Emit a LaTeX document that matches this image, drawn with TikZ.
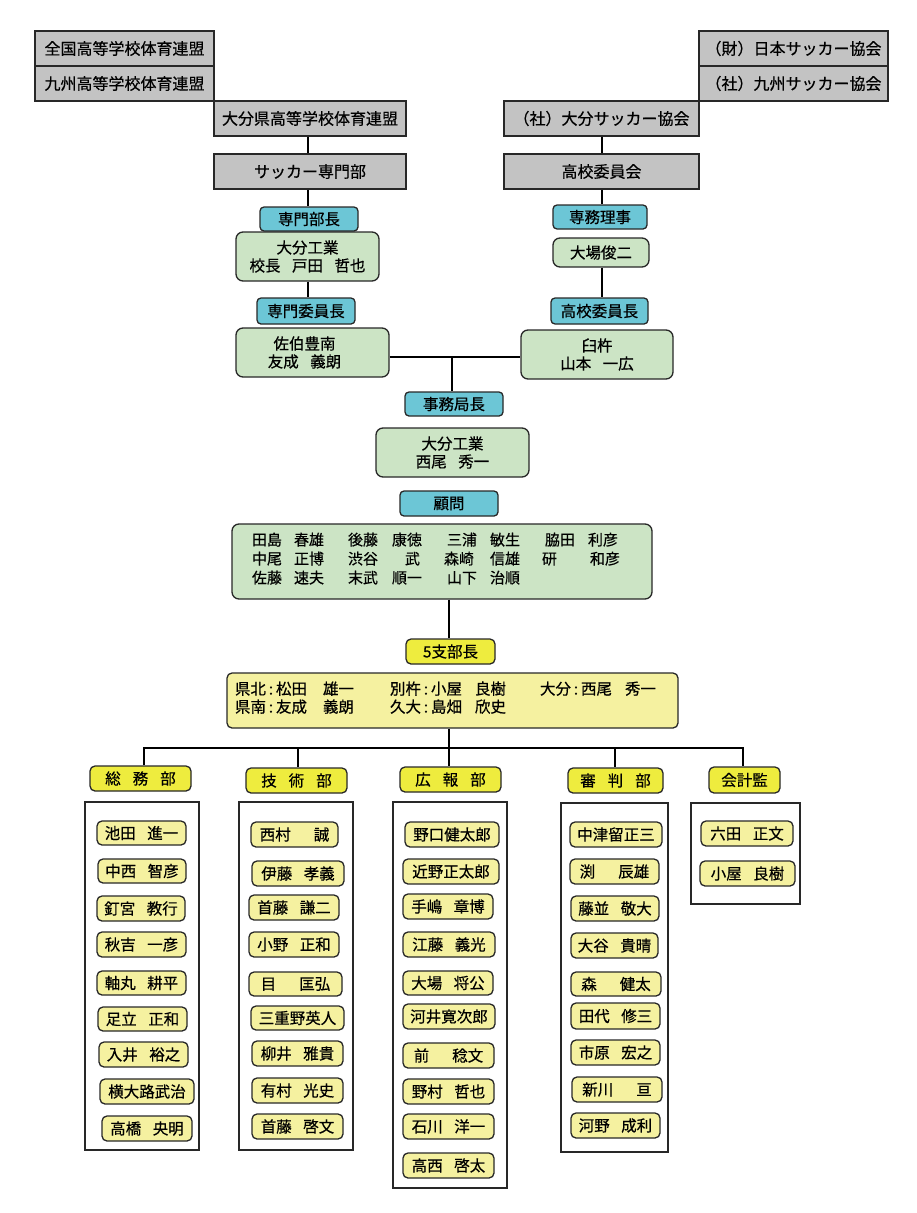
\documentclass[tikz,border=0pt]{standalone}
\usepackage{fontspec}
\setmainfont{Noto Sans CJK JP}[FakeBold=0.5]
\definecolor{grayc}{RGB}{195,195,195}
\definecolor{cyanc}{RGB}{108,198,214}
\definecolor{greenc}{RGB}{204,228,197}
\definecolor{yellowc}{RGB}{238,236,62}
\definecolor{paleyc}{RGB}{245,241,160}
\definecolor{edgec}{RGB}{40,40,40}
\newcommand\bx[7]{\node[#1,minimum width={(#4)-(#3)},minimum height={(#6)-(#5)}] (#2) at ({((#3)+(#4))/2},{((#5)+(#6))/2}) {#7};}
\newcommand\cl[2]{\makebox[#1pt][l]{#2}}
\newcommand\cc{\makebox[10pt]{:}}
\newcommand\sgap{\hspace{11.5pt}}
\newcommand\dgap{\hspace{23pt}}
\begin{document}
\begin{tikzpicture}[x=1pt,y=-1pt,
  base/.style={inner sep=0pt, font=\fontsize{15.5}{18}\selectfont, align=center, text=black},
  graybox/.style={base, draw=edgec, line width=1.6pt, fill=grayc, font=\fontsize{16}{18}\selectfont},
  labelbox/.style={base, draw=edgec, line width=1.3pt, fill=cyanc, rounded corners=4pt},
  greenbox/.style={base, draw=edgec, line width=1.3pt, fill=greenc, rounded corners=7pt},
  deptbox/.style={base, draw=edgec, line width=1.3pt, fill=yellowc, rounded corners=5pt},
  memberbox/.style={base, draw=edgec, line width=1.3pt, fill=paleyc, rounded corners=5pt},
  container/.style={draw=edgec, line width=1.2pt, fill=white, inner sep=0pt},
  conn/.style={line width=2pt, draw=black}]
\useasboundingbox (0,0) rectangle (917,1213);
\fill[white] (0,0) rectangle (917,1213);
% named coordinates for connector lines
\coordinate (lx) at (308,0);
\coordinate (rx) at (602,0);
\coordinate (mx) at (452,0);
\coordinate (bxx) at (449,0);
\coordinate (hy) at (0,357);
\coordinate (j1) at (144,748);
\coordinate (j2) at (298,748);
\coordinate (j3) at (449,748);
\coordinate (j4) at (615,748);
\coordinate (j5) at (743,748);
% gray boxes
\bx{graybox}{g1}{35}{214}{31}{66}{全国高等学校体育連盟}
\bx{graybox}{g2}{35}{214}{66}{101}{九州高等学校体育連盟}
\bx{graybox}{g3}{214}{406}{101}{136}{大分県高等学校体育連盟}
\bx{graybox}{g4}{214}{406}{154}{189}{サッカー専門部}
\bx{graybox}{r1}{699}{888}{31}{66}{（財）日本サッカー協会}
\bx{graybox}{r2}{699}{888}{66}{101}{（社）九州サッカー協会}
\bx{graybox}{r3}{504}{699}{101}{136}{（社）大分サッカー協会}
\bx{graybox}{r4}{504}{699}{154}{189}{高校委員会}
% left column
\bx{labelbox}{c1}{260}{358}{207}{231}{専門部長}
\bx{greenbox}{n1}{236}{379}{232}{281}{大分工業\\校長\sgap 戸田\sgap 哲也}
\bx{labelbox}{c2}{257}{355}{298}{324}{専門委員長}
\bx{greenbox}{n2}{236}{389}{328}{377}{\hspace*{-16pt}佐伯豊南\\\hspace*{-16pt}友成\sgap 義朗}
% right column
\bx{labelbox}{c3}{553}{647}{205}{229}{専務理事}
\bx{greenbox}{n3}{553}{649}{238}{267}{大場俊二}
\bx{labelbox}{c4}{551}{648}{298}{324}{高校委員長}
\bx{greenbox}{n4}{521}{673}{330}{379}{臼杵\\山本\sgap 一広}
% centre
\bx{labelbox}{c5}{405}{503}{392}{416}{事務局長}
\bx{greenbox}{n5}{376}{529}{428}{477}{大分工業\\西尾\sgap 秀一}
\bx{labelbox}{c6}{400}{498}{491}{516}{顧問}
\bx{greenbox, align=left, text width=380pt, inner xsep=20pt, font=\fontsize{15}{19}\selectfont}{n6}{232}{652}{524}{599}{%
\cl{42}{田島}\cl{54}{春雄}\cl{44}{後藤}\cl{55}{康徳}\cl{43}{三浦}\cl{55}{敏生}\cl{43}{脇田}利彦\\
\cl{42}{中尾}\cl{54}{正博}\cl{57}{渋谷}\cl{39}{武}\cl{46}{森崎}\cl{52}{信雄}\cl{48}{研}和彦\\
\cl{42}{佐藤}\cl{54}{速夫}\cl{44}{末武}\cl{55}{順一}\cl{43}{山下}治順\\[-12pt]\mbox{}}
\bx{deptbox}{y0}{406}{495}{639}{664}{5支部長}
\bx{memberbox, align=left, text width=435pt, inner xsep=8pt}{p0}{227}{678}{673}{728}{%
\cl{88}{県北\cc 松田}\cl{67}{雄一}\cl{85}{別杵\cc 小屋}\cl{65}{良樹}\cl{85}{大分\cc 西尾}秀一\\
\cl{88}{県南\cc 友成}\cl{67}{義朗}\cl{85}{久大\cc 島畑}欣史\\[-11pt]\mbox{}}
% departments
\bx{deptbox}{d1}{90}{191}{766}{791}{総\hspace{12pt}務\hspace{12pt}部}
\bx{deptbox}{d2}{246}{347}{768}{793}{技\hspace{12pt}術\hspace{12pt}部}
\bx{deptbox}{d3}{400}{501}{767}{792}{広\hspace{12pt}報\hspace{12pt}部}
\bx{deptbox}{d4}{568}{663}{768}{793}{審\hspace{12pt}判\hspace{12pt}部}
\bx{deptbox}{d5}{709}{780}{767}{793}{会計監}
% containers
\bx{container}{k1}{85}{199}{802}{1150}{}
\bx{container}{k2}{239}{353}{802}{1150}{}
\bx{container}{k3}{393}{507}{802}{1188}{}
\bx{container}{k4}{561}{668}{803}{1152}{}
\bx{container}{k5}{691}{800}{803}{904}{}
% 総務部 members
\bx{memberbox}{s1}{97}{186}{821}{845}{池田\sgap 進一}
\bx{memberbox}{s2}{98}{186}{859}{883}{中西\sgap 智彦}
\bx{memberbox}{s3}{97}{185}{896}{921}{釘宮\sgap 教行}
\bx{memberbox}{s4}{97}{186}{932}{957}{秋吉\sgap 一彦}
\bx{memberbox}{s5}{97}{186}{971}{995}{軸丸\sgap 耕平}
\bx{memberbox}{s6}{98}{187}{1007}{1031}{足立\sgap 正和}
\bx{memberbox}{s7}{99}{188}{1042}{1067}{入井\sgap 裕之}
\bx{memberbox}{s8}{100}{194}{1079}{1104}{横大路武治}
\bx{memberbox}{s9}{102}{192}{1116}{1141}{高橋\sgap 央明}
% 技術部 members
\bx{memberbox}{t1}{251}{338}{822}{847}{西村\dgap 誠}
\bx{memberbox}{t2}{252}{344}{861}{886}{伊藤\sgap 孝義}
\bx{memberbox}{t3}{249}{339}{895}{920}{首藤\sgap 謙二}
\bx{memberbox}{t4}{249}{339}{932}{957}{小野\sgap 正和}
\bx{memberbox}{t5}{249}{342}{972}{996}{目\dgap 匡弘}
\bx{memberbox}{t6}{251}{344}{1006}{1030}{三重野英人}
\bx{memberbox}{t7}{252}{343}{1041}{1066}{柳井\sgap 雅貴}
\bx{memberbox}{t8}{252}{343}{1078}{1103}{有村\sgap 光史}
\bx{memberbox}{t9}{252}{343}{1114}{1139}{首藤\sgap 啓文}
% 広報部 members
\bx{memberbox}{h1}{405}{499}{822}{847}{野口健太郎}
\bx{memberbox}{h2}{403}{499}{859}{884}{近野正太郎}
\bx{memberbox}{h3}{403}{493}{894}{919}{手嶋\sgap 章博}
\bx{memberbox}{h4}{403}{495}{932}{957}{江藤\sgap 義光}
\bx{memberbox}{h5}{403}{493}{971}{995}{大場\sgap 将公}
\bx{memberbox}{h6}{403}{495}{1004}{1029}{河井寛次郎}
\bx{memberbox}{h7}{403}{494}{1043}{1068}{前\dgap 稔文}
\bx{memberbox}{h8}{403}{494}{1079}{1104}{野村\sgap 哲也}
\bx{memberbox}{h9}{403}{494}{1114}{1139}{石川\sgap 洋一}
\bx{memberbox}{h10}{403}{494}{1153}{1178}{高西\sgap 啓太}
% 審判部 members
\bx{memberbox}{m1}{570}{662}{822}{847}{中津留正三}
\bx{memberbox}{m2}{570}{659}{859}{884}{渕\dgap 辰雄}
\bx{memberbox}{m3}{571}{659}{896}{921}{藤並\sgap 敬大}
\bx{memberbox}{m4}{571}{658}{933}{958}{大谷\sgap 貴晴}
\bx{memberbox}{m5}{571}{661}{972}{996}{森\dgap 健太}
\bx{memberbox}{m6}{571}{660}{1003}{1029}{田代\sgap 修三}
\bx{memberbox}{m7}{571}{660}{1040}{1065}{市原\sgap 宏之}
\bx{memberbox}{m8}{572}{662}{1077}{1102}{新川\dgap 亘}
\bx{memberbox}{m9}{571}{660}{1113}{1138}{河野\sgap 成利}
% 会計監 members
\bx{memberbox}{a1}{701}{793}{821}{846}{六田\sgap 正文}
\bx{memberbox}{a2}{700}{795}{861}{886}{小屋\sgap 良樹}
% connectors
\draw[conn] (lx |- g3.south) -- (lx |- g4.north);
\draw[conn] (lx |- g4.south) -- (lx |- c1.north);
\draw[conn] (lx |- n1.south) -- (lx |- c2.north);
\draw[conn] (rx |- r3.south) -- (rx |- r4.north);
\draw[conn] (rx |- r4.south) -- (rx |- c3.north);
\draw[conn] (rx |- n3.south) -- (rx |- c4.north);
\draw[conn] (n2.east |- hy) -- (n4.west |- hy);
\draw[conn] (mx |- hy) -- (mx |- c5.north);
\draw[conn] (bxx |- n6.south) -- (bxx |- y0.north);
\draw[conn] (bxx |- p0.south) -- (bxx |- d3.north);
\draw[conn] (j1 |- d1.north) -- (j1) -- (j5) -- (j5 |- d5.north);
\draw[conn] (j2) -- (j2 |- d2.north);
\draw[conn] (j4) -- (j4 |- d4.north);
\end{tikzpicture}
\end{document}
